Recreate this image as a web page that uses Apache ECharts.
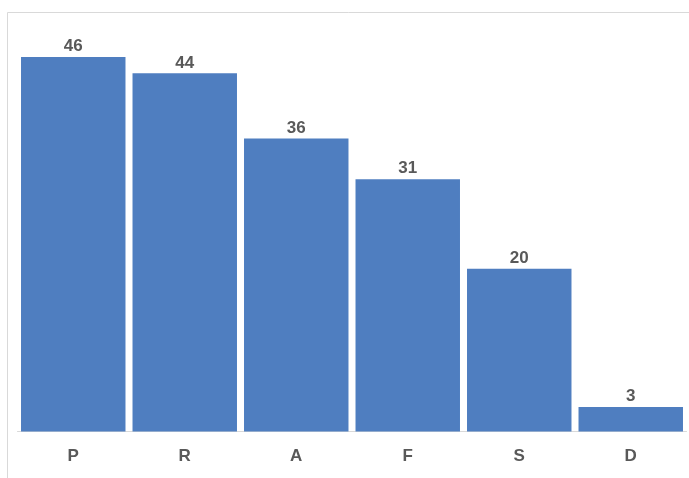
<!DOCTYPE html>
<html>
<head>
<meta charset="utf-8">
<script src="https://cdn.jsdelivr.net/npm/echarts@6/dist/echarts.min.js"></script>
<style>
  html, body { margin: 0; padding: 0; background: #fff; }
  #chart { width: 689px; height: 478px; }
</style>
</head>
<body>
<div id="chart"></div>
<script>
const categories = ['P', 'R', 'A', 'F', 'S', 'D']
const values = [46, 44, 36, 31, 20, 3]

const chart = echarts.init(document.getElementById('chart'))

const option = {
  backgroundColor: '#fff',
  animation: false,
  // outer frame like the spreadsheet chart area
  graphic: [
    {
      type: 'rect',
      shape: { x: 7.5, y: 12.5, width: 700, height: 500 },
      style: { fill: 'none', stroke: '#d9d9d9', lineWidth: 1 },
      silent: true,
    },
  ],
  grid: {
    left: 17.5,
    right: 2.5,
    top: 24.5,
    bottom: 46.5,
  },
  xAxis: {
    type: 'category',
    data: categories,
    axisLine: { lineStyle: { color: '#d9d9d9', width: 1 } },
    axisTick: { show: false },
    axisLabel: {
      color: '#595959',
      fontFamily: 'Liberation Sans, Arial, sans-serif',
      fontSize: 17,
      fontWeight: 'bold',
      margin: 16,
    },
  },
  yAxis: {
    type: 'value',
    min: 0,
    max: 50,
    show: false,
    splitLine: { show: false },
  },
  series: [
    {
      type: 'bar',
      data: values,
      barCategoryGap: '6.3%',
      itemStyle: { color: '#4f7ec0' },
      label: {
        show: true,
        position: 'top',
        distance: 2,
        color: '#595959',
        fontFamily: 'Liberation Sans, Arial, sans-serif',
        fontSize: 17,
        fontWeight: 'bold',
      },
    },
  ],
}

chart.setOption(option)
</script>
</body>
</html>
